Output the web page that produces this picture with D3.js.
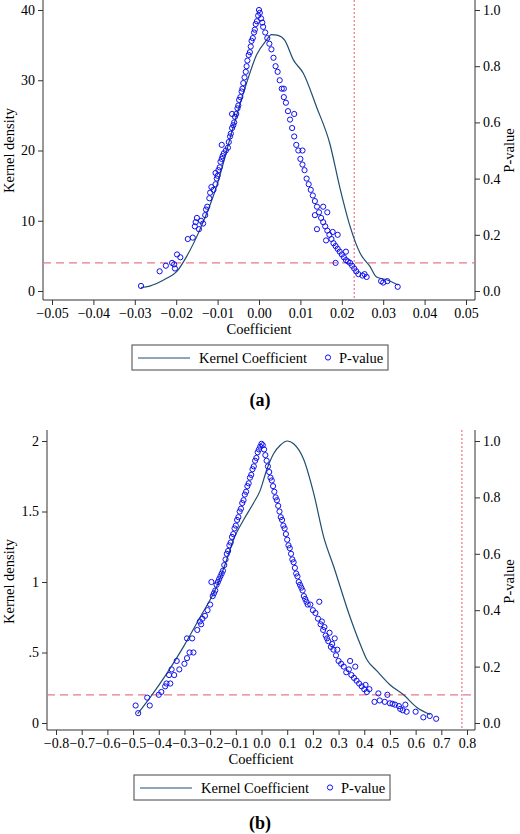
<!DOCTYPE html>
<html><head><meta charset="utf-8">
<script src="https://cdn.jsdelivr.net/npm/d3@7"></script>
<style>body{margin:0;background:#fff}text{font-family:"Liberation Serif","Times New Roman",serif}</style>
</head><body><div id="chart"></div>
<script>
// panel (a)
let kernelA = [[-0.0285,0.5],[-0.0264,0.7],[-0.0223,1.8],[-0.0199,2.75],[-0.0175,4.9],[-0.0143,8.7],[-0.0103,14.8],[-0.0062,23.4],[-0.003,29.6],[-0.0006,33.6],[0.0018,35.7],[0.003,36.5],[0.0046,36.4],[0.0062,35.7],[0.0083,32.9],[0.0107,31.0],[0.0139,26.2],[0.0171,21.0],[0.0195,14.8],[0.022,9.2],[0.0244,5.4],[0.0268,3.5],[0.0284,2.0],[0.0308,1.6],[0.0336,0.85]];
let pvalA = [[-0.0285,0.018],[-0.024,0.07],[-0.0225,0.09],[-0.021,0.1],[-0.0205,0.095],[-0.0203,0.08],[-0.0198,0.13],[-0.019,0.12],[-0.0172,0.185],[-0.016,0.19],[-0.0155,0.23],[-0.0153,0.245],[-0.015,0.26],[-0.0145,0.22],[-0.014,0.25],[-0.0135,0.24],[-0.013,0.27],[-0.0128,0.29],[-0.0125,0.3],[-0.012,0.33],[-0.0118,0.35],[-0.0115,0.37],[-0.011,0.36],[-0.0105,0.38],[-0.0102,0.4],[-0.01,0.41],[-0.0098,0.43],[-0.0095,0.44],[-0.0093,0.46],[-0.009,0.47],[-0.0088,0.48],[-0.0085,0.49],[-0.008,0.5],[-0.0075,0.51],[-0.0073,0.53],[-0.007,0.55],[-0.0068,0.56],[-0.0065,0.58],[-0.0062,0.59],[-0.006,0.6],[-0.0058,0.62],[-0.0055,0.63],[-0.0052,0.65],[-0.005,0.66],[-0.0048,0.68],[-0.0045,0.69],[-0.0042,0.71],[-0.004,0.72],[-0.0038,0.74],[-0.0035,0.76],[-0.0032,0.78],[-0.003,0.8],[-0.0028,0.82],[-0.0025,0.84],[-0.0022,0.85],[-0.002,0.87],[-0.0018,0.89],[-0.0015,0.9],[-0.0012,0.92],[-0.001,0.93],[-0.0008,0.95],[-0.0005,0.96],[-0.0002,0.98],[0,1.0],[0.0002,0.99],[0.0005,0.97],[0.0008,0.955],[0.001,0.94],[0.0015,0.92],[0.002,0.9],[0.0025,0.88],[0.003,0.86],[0.0035,0.83],[0.004,0.8],[0.0045,0.78],[0.005,0.75],[0.0055,0.72],[0.006,0.69],[0.0065,0.67],[0.007,0.64],[0.0075,0.61],[0.008,0.58],[0.0085,0.55],[0.009,0.52],[0.0095,0.5],[0.01,0.47],[0.0105,0.45],[0.011,0.43],[0.0115,0.4],[0.012,0.38],[0.0125,0.36],[0.013,0.34],[0.0135,0.32],[0.014,0.3],[0.0145,0.28],[0.015,0.26],[0.0155,0.245],[0.016,0.23],[0.0165,0.215],[0.017,0.2],[0.0175,0.185],[0.018,0.17],[0.0185,0.16],[0.019,0.15],[0.0195,0.14],[0.02,0.13],[0.0205,0.12],[0.021,0.11],[0.0215,0.105],[0.022,0.1],[0.0225,0.09],[0.023,0.08],[0.0235,0.07],[0.024,0.06],[0.025,0.055],[0.0255,0.06],[0.026,0.05],[0.0295,0.035],[0.03,0.03],[0.031,0.035],[0.0335,0.015],[0.0185,0.1],[0.019,0.2],[0.0165,0.28],[0.014,0.22],[0.0135,0.27],[0.0155,0.3],[0.0105,0.5],[0.0085,0.63],[0.006,0.72],[0.0162,0.18],[0.0178,0.21],[0.021,0.14],[-0.009,0.52],[-0.0105,0.42],[-0.0065,0.63]];
let vLineA = 0.023;
let xTicksA = [-0.05,-0.04,-0.03,-0.02,-0.01,0,0.01,0.02,0.03,0.04,0.05];
let yTicksA = [0,10,20,30,40];
// panel (b)
let kernelB = [[-0.482,0.066],[-0.434,0.18],[-0.369,0.35],[-0.304,0.54],[-0.239,0.75],[-0.174,0.97],[-0.135,1.16],[-0.109,1.3],[-0.07,1.44],[-0.031,1.56],[-0.005,1.65],[0.021,1.8],[0.047,1.91],[0.073,1.97],[0.101,2.0],[0.125,1.98],[0.164,1.87],[0.203,1.63],[0.242,1.32],[0.281,1.11],[0.345,0.75],[0.384,0.56],[0.41,0.45],[0.449,0.37],[0.501,0.27],[0.553,0.2],[0.605,0.11],[0.657,0.06]];
let pvalB = [[-0.49,0.062],[-0.48,0.035],[-0.445,0.09],[-0.435,0.062],[-0.4,0.1],[-0.39,0.11],[-0.375,0.13],[-0.37,0.14],[-0.36,0.17],[-0.355,0.14],[-0.35,0.19],[-0.34,0.17],[-0.33,0.22],[-0.32,0.19],[-0.3,0.21],[-0.29,0.23],[-0.28,0.25],[-0.29,0.3],[-0.27,0.3],[-0.265,0.25],[-0.25,0.33],[-0.24,0.36],[-0.235,0.35],[-0.23,0.37],[-0.22,0.38],[-0.21,0.4],[-0.2,0.42],[-0.195,0.5],[-0.19,0.45],[-0.185,0.46],[-0.18,0.47],[-0.175,0.49],[-0.17,0.5],[-0.165,0.51],[-0.16,0.52],[-0.155,0.53],[-0.15,0.54],[-0.145,0.56],[-0.14,0.58],[-0.135,0.6],[-0.13,0.61],[-0.125,0.63],[-0.12,0.64],[-0.115,0.66],[-0.11,0.67],[-0.105,0.69],[-0.1,0.7],[-0.095,0.72],[-0.09,0.73],[-0.085,0.75],[-0.08,0.76],[-0.075,0.78],[-0.07,0.79],[-0.065,0.81],[-0.06,0.82],[-0.055,0.84],[-0.05,0.85],[-0.045,0.87],[-0.04,0.88],[-0.035,0.9],[-0.03,0.91],[-0.025,0.93],[-0.02,0.94],[-0.015,0.96],[-0.01,0.97],[-0.005,0.98],[0,0.99],[0.005,0.985],[0.01,0.97],[0.015,0.95],[0.02,0.93],[0.025,0.91],[0.03,0.89],[0.035,0.87],[0.04,0.86],[0.045,0.84],[0.05,0.82],[0.055,0.8],[0.06,0.79],[0.065,0.77],[0.07,0.75],[0.075,0.73],[0.08,0.72],[0.085,0.7],[0.09,0.69],[0.095,0.67],[0.1,0.65],[0.105,0.63],[0.11,0.62],[0.115,0.6],[0.12,0.58],[0.125,0.57],[0.13,0.55],[0.135,0.53],[0.14,0.52],[0.145,0.5],[0.15,0.49],[0.155,0.48],[0.16,0.47],[0.165,0.45],[0.17,0.44],[0.175,0.43],[0.18,0.42],[0.19,0.42],[0.2,0.4],[0.21,0.39],[0.22,0.37],[0.225,0.43],[0.23,0.35],[0.235,0.36],[0.24,0.33],[0.245,0.34],[0.25,0.31],[0.255,0.3],[0.26,0.29],[0.265,0.32],[0.27,0.27],[0.275,0.28],[0.28,0.26],[0.285,0.3],[0.29,0.24],[0.295,0.26],[0.3,0.22],[0.31,0.21],[0.32,0.2],[0.33,0.18],[0.34,0.19],[0.345,0.22],[0.35,0.17],[0.36,0.16],[0.365,0.2],[0.37,0.15],[0.38,0.14],[0.39,0.13],[0.4,0.12],[0.405,0.135],[0.41,0.11],[0.42,0.12],[0.44,0.075],[0.455,0.105],[0.46,0.08],[0.48,0.075],[0.49,0.1],[0.5,0.07],[0.51,0.068],[0.52,0.065],[0.535,0.06],[0.54,0.05],[0.55,0.045],[0.56,0.065],[0.565,0.04],[0.6,0.04],[0.63,0.02],[0.655,0.025],[0.68,0.015]];
let vLineB = 0.78;
let xTicksB = [-0.8,-0.7,-0.6,-0.5,-0.4,-0.3,-0.2,-0.1,0,0.1,0.2,0.3,0.4,0.5,0.6,0.7,0.8];
let yTicksB = [0,0.5,1,1.5,2];
let pTicks = [0,0.2,0.4,0.6,0.8,1.0];
let pCut = 0.1;

let svg = d3.select("#chart").append("svg").attr("width", 520).attr("height", 834);

function panel(o) {
    let g = svg.append("g").attr("transform", `translate(0,${o.top})`);
    let x = d3.scaleLinear().domain(o.xd).range(o.xr);
    let y = d3.scaleLinear().domain([0, o.ymax]).range([o.y0, o.y1]);
    let p = d3.scaleLinear().domain([0, 1]).range([o.y0, o.y1]);
    let left = o.left, right = 475, bottom = 300;

    let ax = g.append("g").attr("transform", `translate(0,${bottom})`)
        .call(d3.axisBottom(x).tickValues(o.xTicks).tickSize(5).tickPadding(3).tickFormat(o.xFmt));
    ax.select(".domain").attr("d", `M${left},0H${right}`);
    let ay = g.append("g").attr("transform", `translate(${left},0)`)
        .call(d3.axisLeft(y).tickValues(o.yTicks).tickSize(5).tickPadding(3).tickFormat(o.yFmt));
    ay.select(".domain").attr("d", `M0,0V${bottom}`);
    let ap = g.append("g").attr("transform", `translate(${right},0)`)
        .call(d3.axisRight(p).tickValues(pTicks).tickSize(5).tickPadding(3).tickFormat(d3.format(".1f")));
    ap.select(".domain").attr("d", `M0,0V${bottom}`);
    g.selectAll(".tick text").attr("font-size", o.tickSize).attr("fill", "#000");
    g.selectAll(".domain, .tick line").attr("stroke", "#333");

    g.append("line").attr("x1", left).attr("x2", right).attr("y1", p(pCut)).attr("y2", p(pCut))
        .attr("stroke", "#e8788a").attr("stroke-width", 1.2).attr("stroke-dasharray", "8,5");
    g.append("line").attr("x1", x(o.vline)).attr("x2", x(o.vline)).attr("y1", 0).attr("y2", bottom)
        .attr("stroke", "#e8788a").attr("stroke-width", 1.2).attr("stroke-dasharray", "2,2");

    g.append("path").datum(o.kernel)
        .attr("d", d3.line().x(d => x(d[0])).y(d => y(d[1])).curve(d3.curveMonotoneX))
        .attr("fill", "none").attr("stroke", "#1f4e6e").attr("stroke-width", 1.2);

    g.selectAll("circle.pv").data(o.pv).join("circle").attr("class", "pv")
        .attr("cx", d => x(d[0])).attr("cy", d => p(d[1])).attr("r", 2.6)
        .attr("fill", "none").attr("stroke", "#1010ee").attr("stroke-width", 1);

    g.append("text").attr("x", (left + right) / 2).attr("y", 334).attr("text-anchor", "middle")
        .attr("font-size", 14.5).text("Coefficient");
    g.append("text").attr("transform", `translate(14,${o.y0 / 2 + 5}) rotate(-90)`).attr("text-anchor", "middle")
        .attr("font-size", 14.5).text("Kernel density");
    g.append("text").attr("transform", `translate(514,${o.y0 / 2 + 5}) rotate(-90)`).attr("text-anchor", "middle")
        .attr("font-size", 14.5).text("P-value");

    let lg = g.append("g").attr("transform", `translate(${o.lgx},345)`);
    lg.append("rect").attr("width", 256).attr("height", 25).attr("fill", "#fff").attr("stroke", "#444");
    lg.append("line").attr("x1", 6).attr("x2", 58).attr("y1", 13).attr("y2", 13).attr("stroke", "#1f4e6e").attr("stroke-width", 1.2);
    lg.append("text").attr("x", 67).attr("y", 18).attr("font-size", 14.5).text("Kernel Coefficient");
    lg.append("circle").attr("cx", 196).attr("cy", 12.5).attr("r", 2.6).attr("fill", "none").attr("stroke", "#1010ee");
    lg.append("text").attr("x", 207).attr("y", 18).attr("font-size", 14.5).text("P-value");

    g.append("text").attr("x", 260).attr("y", o.capY).attr("text-anchor", "middle")
        .attr("font-size", 18).attr("font-weight", "bold").text(o.cap);
}

panel({top: 0, left: 43, xd: [-0.05, 0.05], xr: [52, 466], ymax: 40, y0: 291, y1: 10, tickSize: 14,
    xTicks: xTicksA, yTicks: yTicksA, xFmt: d3.format(".2f"), yFmt: d3.format("d"),
    kernel: kernelA, pv: pvalA, vline: vLineA, lgx: 132, cap: "(a)", capY: 406});
panel({top: 430, left: 47, xd: [-0.8, 0.8], xr: [56, 467], ymax: 2, y0: 293, y1: 11, tickSize: 14,
    xTicks: xTicksB, yTicks: yTicksB, xFmt: d3.format(".1f"), yFmt: d => d === 0.5 ? ".5" : String(d),
    kernel: kernelB, pv: pvalB, vline: vLineB, lgx: 134, cap: "(b)", capY: 399});
</script></body></html>
